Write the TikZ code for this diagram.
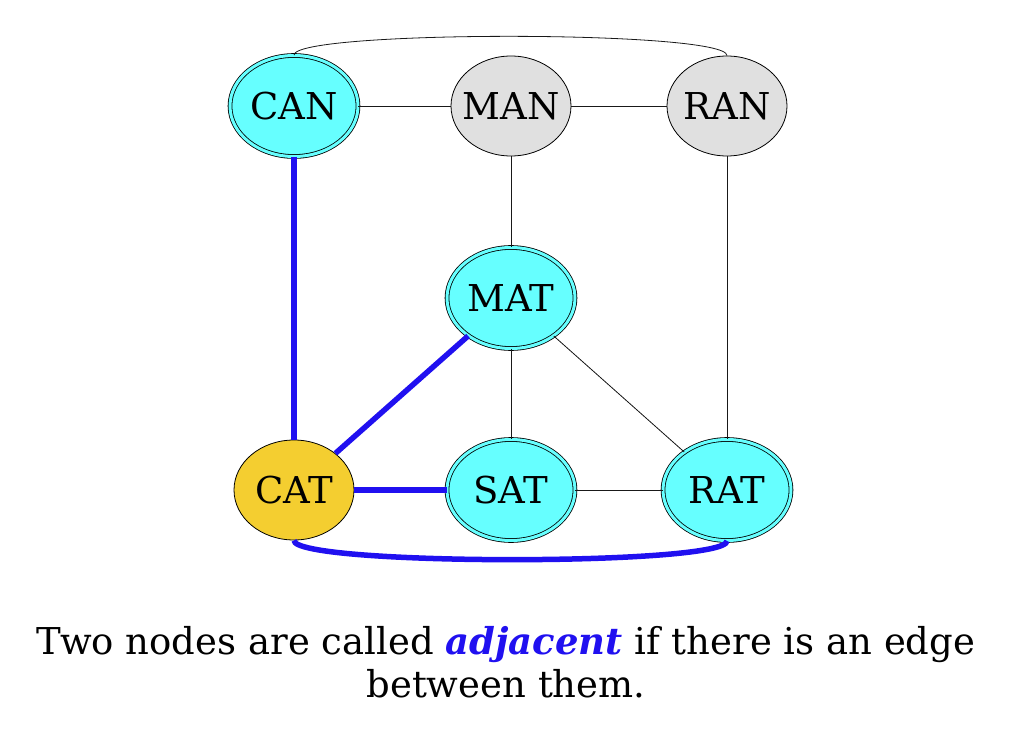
\documentclass[tikz,border=0pt]{standalone}
\usepackage{fontspec}
\setmainfont{DejaVu Serif}
\usetikzlibrary{shapes.geometric}
\definecolor{cyanfill}{HTML}{66FFFF}
\definecolor{grayfill}{HTML}{E0E0E0}
\definecolor{goldfill}{HTML}{F4CE30}
\definecolor{adjblue}{HTML}{2010F0}
\begin{document}
\begin{tikzpicture}[x=1pt, y=-1pt, every node/.style={ellipse, draw, line width=.8pt, inner sep=-16pt, minimum width=120pt, minimum height=100pt, font=\fontsize{37}{43}\selectfont},
  dbl/.style={fill=cyanfill, double=cyanfill, double distance=3pt, minimum width=128pt, minimum height=101pt},
  thin/.style={black!90, line width=.8pt},
  thick/.style={adjblue, line width=5.5pt}]
  \useasboundingbox (0,0) rectangle (1020,738);
  \node [dbl] (CAN) at (294, 106) {CAN};
  \node [fill=grayfill] (MAN) at (511, 106) {MAN};
  \node [fill=grayfill] (RAN) at (727, 106) {RAN};
  \node [dbl] (MAT) at (511, 298) {MAT};
  \node [fill=goldfill] (CAT) at (294, 490) {CAT};
  \node [dbl] (SAT) at (511, 490) {SAT};
  \node [dbl] (RAT) at (727, 490) {RAT};
  \node [draw=none, rectangle, inner sep=0pt, align=center, minimum width=0pt, minimum height=0pt] (caption) at (506, 662) {Two nodes are called \textcolor{adjblue}{\textbf{\textit{adjacent}}} if there is an edge\\between them.};
  \draw [thin] (CAN) -- (MAN);
  \draw [thin] (MAN) -- (RAN);
  \draw [thin] (CAN.north) .. controls (294, 30) and (727, 30) .. (RAN.north);
  \draw [thin] (MAN) -- (MAT);
  \draw [thin] (RAN) -- (RAT);
  \draw [thin] (MAT) -- (SAT);
  \draw [thin] (MAT) -- (RAT);
  \draw [thin] (SAT) -- (RAT);
  \draw [thick] (CAN) -- (CAT);
  \draw [thick] (MAT) -- (CAT);
  \draw [thick] (CAT) -- (SAT);
  \draw [thick] (CAT.south) .. controls (294, 566) and (727, 566) .. (RAT.south);
\end{tikzpicture}
\end{document}
